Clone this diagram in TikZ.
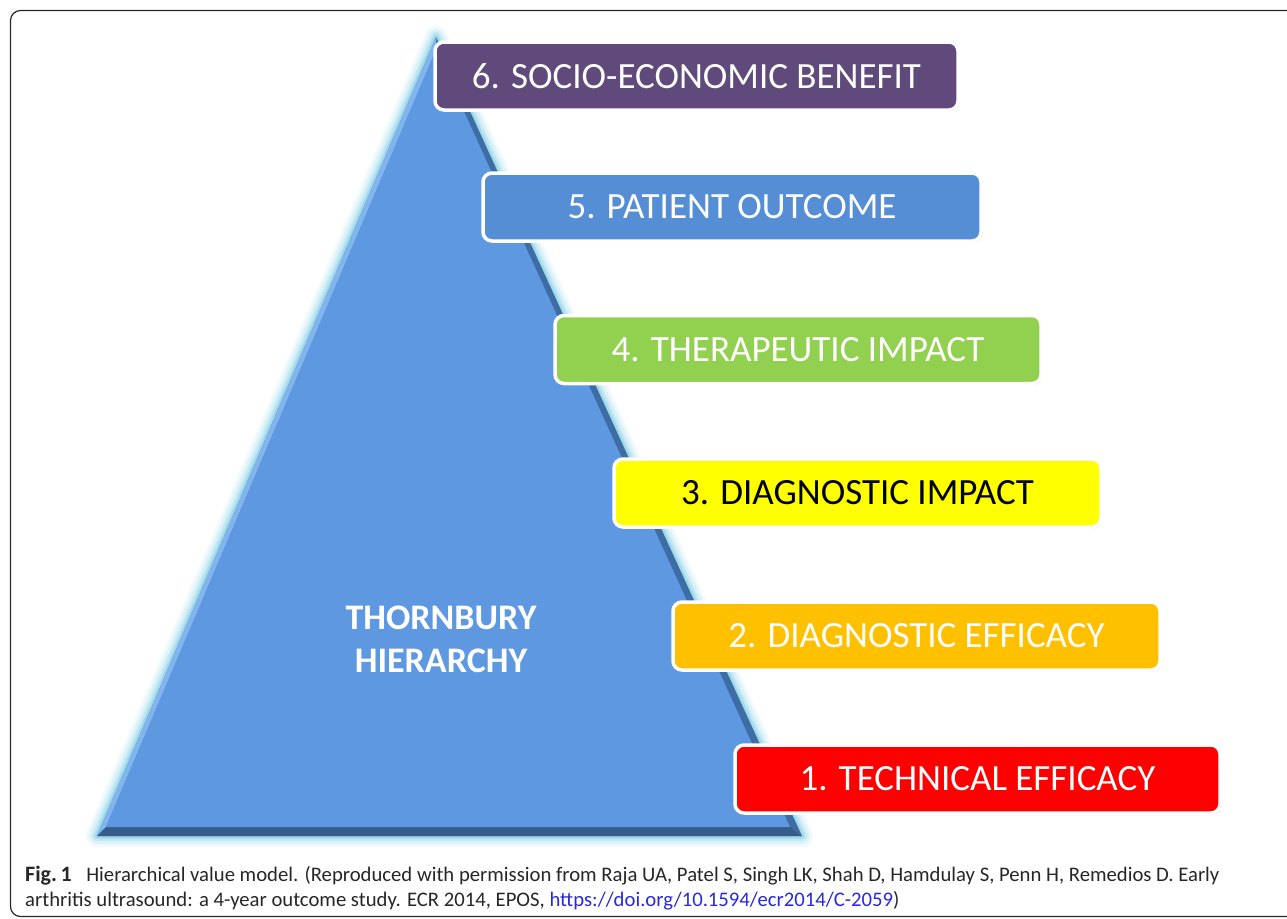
\documentclass[tikz,border=0pt]{standalone}
\usepackage{fontspec}
\setmainfont{Carlito}
\usetikzlibrary{shadows}
\definecolor{tri}{RGB}{93,152,224}
\definecolor{tridark}{RGB}{55,92,140}
\definecolor{triright}{RGB}{62,108,165}
\definecolor{trilight}{RGB}{130,180,238}
\definecolor{glow}{RGB}{110,200,225}
\definecolor{cpurple}{RGB}{96,74,123}
\definecolor{cblue}{RGB}{85,142,213}
\definecolor{cgreen}{RGB}{146,208,80}
\definecolor{cyellow}{RGB}{255,255,0}
\definecolor{corange}{RGB}{255,192,0}
\definecolor{cred}{RGB}{255,0,0}
\definecolor{linkblue}{RGB}{40,40,220}
\definecolor{framec}{RGB}{40,40,40}
\tikzset{
  levelbox/.style={draw=white, line width=3.5pt, rounded corners=9pt,
    minimum height=68pt, inner sep=0pt, text=white,
    font=\fontsize{37}{40}\selectfont,
    drop shadow={shadow xshift=1.5pt, shadow yshift=-1.5pt, opacity=0.2, fill=black!50}},
  caption/.style={anchor=base west, inner sep=0pt, font=\fontsize{20.7}{23}\selectfont, text=black!85}
}
\begin{document}
\begin{tikzpicture}[x=1pt,y=-1pt]
\useasboundingbox (0,0) rectangle (1287,918);
\clip (0,0) rectangle (1287,918);
% frame
\draw[framec, line width=1.2pt, rounded corners=10pt] (1300,10.5) -- (10.5,10.5) -- (10.5,916.5) -- (1300,916.5);
% triangle coordinates
\coordinate (A) at (436,37);
\coordinate (B) at (97,836);
\coordinate (C) at (802,836);
\coordinate (Ai) at (436,50);
\coordinate (Bi) at (106,827);
\coordinate (Ci) at (790,827);
% glow
\foreach \w/\o in {22/0.10,16/0.15,10/0.25,5/0.4}{
  \draw[glow, line width=\w pt, line join=round, opacity=\o] (A) -- (B) -- (C) -- cycle;
}
% triangle with bevel
\fill[triright] (A) -- (B) -- (C) -- cycle;
\fill[trilight] (A) -- (B) -- (Bi) -- (Ai) -- cycle;
\fill[tridark] (B) -- (C) -- (Ci) -- (Bi) -- cycle;
\fill[tri] (Ai) -- (Bi) -- (Ci) -- cycle;
\node[font=\bfseries\fontsize{36}{43}\selectfont, text=white, align=center] (title) at (441,639) {THORNBURY\\HIERARCHY};
% level boxes
\node[levelbox, fill=cpurple, minimum width=523pt] (l6) at (696.5,76) {6. SOCIO-ECONOMIC BENEFIT};
\node[levelbox, fill=cblue, minimum width=498pt] (l5) at (732,207) {5. PATIENT OUTCOME};
\node[levelbox, fill=cgreen, minimum width=486pt] (l4) at (798,349.5) {4. THERAPEUTIC IMPACT};
\node[levelbox, fill=cyellow, minimum width=487pt, text=black] (l3) at (857.5,493) {3. DIAGNOSTIC IMPACT};
\node[levelbox, fill=corange, minimum width=487pt] (l2) at (916.5,636) {2. DIAGNOSTIC EFFICACY};
\node[levelbox, fill=cred, minimum width=485pt] (l1) at (977.5,779) {1. TECHNICAL EFFICACY};
% caption
\node[caption] (cap1) at (25,881) {\textbf{\fontsize{22}{23}\selectfont Fig.\,1}\hspace{0.7em}Hierarchical value model. (Reproduced with permission from Raja UA, Patel S, Singh LK, Shah D, Hamdulay S, Penn H, Remedios D. Early};
\node[caption] (cap2) at (25,906) {arthritis ultrasound: a 4-year outcome study. ECR 2014, EPOS, \textcolor{linkblue}{https://doi.org/10.1594/ecr2014/C-2059})};
\end{tikzpicture}
\end{document}
